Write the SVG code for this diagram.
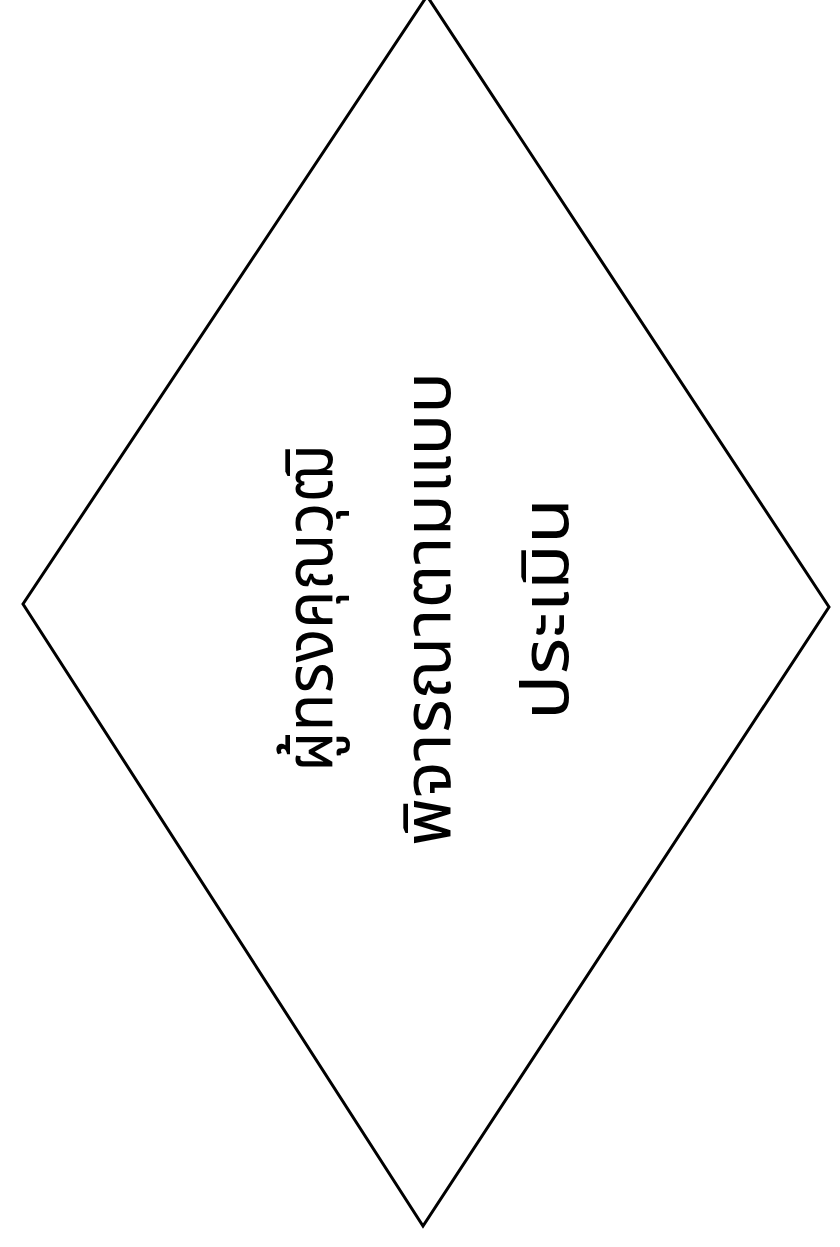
<svg xmlns="http://www.w3.org/2000/svg" width="840" height="1247" viewBox="0 0 840 1247">
<style>
.shape{fill:#ffffff;stroke:#000000;stroke-width:3;stroke-linejoin:miter}
.lbl{font-family:"Noto Sans Thai","Noto Sans","DejaVu Sans",sans-serif;font-size:66px;fill:#000000;text-anchor:middle}
</style>
<rect width="840" height="1247" fill="#ffffff"/>
<g id="connectors"></g>
<g id="decision">
<polygon class="shape" points="427,-4 829,607 423,1226 23,604"/>
<text class="lbl" transform="translate(332,609) rotate(-90)" x="0" y="0" textLength="326" lengthAdjust="spacingAndGlyphs">ผู้ทรงคุณวุฒิ</text>
<text class="lbl" transform="translate(450,609) rotate(-90)" x="0" y="0" textLength="474" lengthAdjust="spacingAndGlyphs">พิจารณาตามแบบ</text>
<text class="lbl" transform="translate(568,609) rotate(-90)" x="0" y="0" textLength="222" lengthAdjust="spacingAndGlyphs">ประเมิน</text>
</g>
</svg>
